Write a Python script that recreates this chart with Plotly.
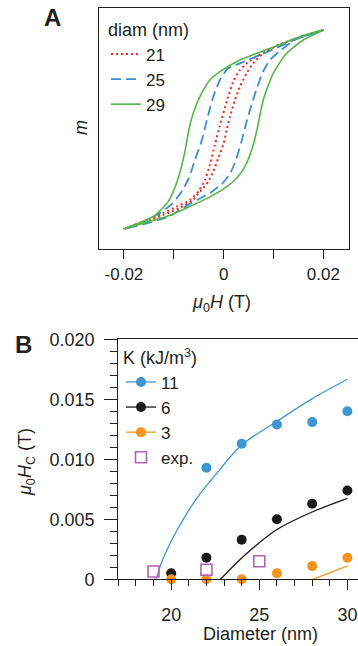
import plotly.graph_objects as go

W, H = 358, 646
INK = "#231f20"
FONT = "Liberation Sans, Arial, Helvetica, sans-serif"

# ---------------- Panel A: hysteresis loops (mu0H in T, normalised m) ----------------
# 21 nm (red dotted)
H21_down = [0.020, 0.01465, 0.0113, 0.00795, 0.00527, 0.00327, 0.00193, 0.00092, -0.00084,
            -0.00175, -0.00275, -0.00375, -0.0051, -0.00676, -0.00943, -0.01212, -0.01579, -0.020]
m21_down = [1.0, 0.917, 0.855, 0.775, 0.69, 0.60, 0.481, 0.331, 0.027,
            -0.153, -0.354, -0.505, -0.622, -0.705, -0.772, -0.839, -0.916, -0.996]
H21_up = [-0.020, -0.01579, -0.01212, -0.00877, -0.00616, -0.00476, -0.00309, -0.00209, -0.00108,
          -0.00008, 0.0006, 0.00126, 0.00227, 0.00327, 0.00462, 0.00594, 0.00795, 0.01096, 0.01465, 0.020]
m21_up = [-0.996, -0.931, -0.856, -0.785, -0.705, -0.625, -0.522, -0.421, -0.287,
          -0.153, -0.003, 0.13, 0.298, 0.431, 0.566, 0.666, 0.766, 0.85, 0.917, 1.0]

# 25 nm (blue dashed)
H25_down = [0.020, 0.01531, 0.00929, 0.00327, 0.00092, -0.00074, -0.00215, -0.00335, -0.00435,
            -0.00575, -0.00696, -0.00835, -0.01036, -0.01277, -0.01578, -0.020]
m25_down = [1.0, 0.925, 0.792, 0.665, 0.616, 0.498, 0.318, 0.098, -0.103,
            -0.304, -0.485, -0.615, -0.745, -0.836, -0.916, -0.996]
H25_up = [-0.020, -0.01579, -0.01077, -0.00676, -0.00275, -0.00034, 0.00126, 0.00247, 0.00367,
          0.00448, 0.00528, 0.00668, 0.00789, 0.00929, 0.0113, 0.01431, 0.020]
m25_up = [-0.996, -0.946, -0.866, -0.745, -0.635, -0.545, -0.444, -0.304, -0.103,
          0.057, 0.198, 0.418, 0.579, 0.699, 0.789, 0.90, 1.0]

# 29 nm (green solid)
H29_down = [0.020, 0.01531, 0.00929, 0.00327, -0.00074, -0.00275, -0.00476, -0.0061, -0.0069,
            -0.00777, -0.00911, -0.01112, -0.01413, -0.02015]
m29_down = [1.0, 0.933, 0.816, 0.699, 0.582, 0.498, 0.331, 0.164, 0.017,
            -0.221, -0.487, -0.722, -0.873, -0.996]
H29_up = [-0.02015, -0.01614, -0.01144, -0.00676, -0.00275, -0.00034, 0.00227, 0.00427, 0.00594,
          0.00668, 0.00795, 0.00995, 0.01264, 0.01597, 0.020]
m29_up = [-0.996, -0.939, -0.873, -0.772, -0.675, -0.605, -0.505, -0.371, -0.153,
          -0.003, 0.298, 0.566, 0.766, 0.90, 1.0]

x_ticks_A = [-0.02, -0.01, 0, 0.01, 0.02]
x_ticktext_A = ["-0.02", "", "0", "", "0.02"]

# ---------------- Panel B: coercivity vs diameter ----------------
D_sim = [20, 22, 24, 26, 28, 30]
Hc_11 = [None, 0.0093, 0.0113, 0.0129, 0.0131, 0.0140]
Hc_6 = [0.0005, 0.0018, 0.0033, 0.0050, 0.0063, 0.0074]
Hc_3 = [0.0, 0.0, 0.0, 0.0005, 0.0011, 0.0018]
D_exp = [19, 22, 25]
Hc_exp = [0.00065, 0.0008, 0.0015]

fit11_D = [19.15, 19.45, 20.3, 21.45, 22.58, 23.99, 25.96, 28.03, 30.0]
fit11_H = [0.0, 0.0014, 0.0040, 0.00675, 0.00883, 0.01119, 0.01313, 0.01508, 0.01667]
fit6_D = [22.8, 24.08, 25.96, 28.03, 30.0]
fit6_H = [0.0, 0.00188, 0.00411, 0.00563, 0.00675]
fit3_D = [28.03, 30.0]
fit3_H = [0.0, 0.00111]

x_ticks_B = [20, 25, 30]
x_ticktext_B = ["20", "25", "30"]
y_ticks_B = [0, 0.005, 0.010, 0.015, 0.020]
y_ticktext_B = ["0", "0.005", "0.010", "0.015", "0.020"]

RED, BLUE, GREEN = "#ee2b24", "#3a8fcd", "#55b649"
C11, C6, C3, CEXP = "#3f95cf", "#1a1a1a", "#f7941d", "#b062b3"


def px(x):
    return x / W


def py(y):
    return 1 - y / H


fig = go.Figure()

# Panel A traces
fig.add_trace(go.Scatter(x=H21_down + H21_up, y=m21_down + m21_up, mode="lines", name="21",
                         line=dict(color=RED, width=2, dash="2px,3px", shape="spline", smoothing=0.6),
                         xaxis="x", yaxis="y", legend="legend"))
fig.add_trace(go.Scatter(x=H25_down + H25_up, y=m25_down + m25_up, mode="lines", name="25",
                         line=dict(color=BLUE, width=1.8, dash="10px,5px", shape="spline", smoothing=0.6),
                         xaxis="x", yaxis="y", legend="legend"))
fig.add_trace(go.Scatter(x=H29_down + H29_up, y=m29_down + m29_up, mode="lines", name="29",
                         line=dict(color=GREEN, width=1.6, shape="spline", smoothing=0.6),
                         xaxis="x", yaxis="y", legend="legend"))

# Panel B curves
fig.add_trace(go.Scatter(x=fit11_D, y=fit11_H, mode="lines", showlegend=False,
                         line=dict(color=C11, width=1.3, shape="spline", smoothing=0.8),
                         xaxis="x2", yaxis="y2"))
fig.add_trace(go.Scatter(x=fit6_D, y=fit6_H, mode="lines", showlegend=False,
                         line=dict(color=C6, width=1.3, shape="spline", smoothing=0.8),
                         xaxis="x2", yaxis="y2"))
fig.add_trace(go.Scatter(x=fit3_D, y=fit3_H, mode="lines", showlegend=False,
                         line=dict(color=C3, width=1.3), xaxis="x2", yaxis="y2"))

# Panel B points
for vals, col in [(Hc_11, C11), (Hc_6, C6), (Hc_3, C3)]:
    fig.add_trace(go.Scatter(x=D_sim, y=vals, mode="markers", showlegend=False, cliponaxis=False,
                             marker=dict(color=col, size=10, line=dict(width=0)),
                             xaxis="x2", yaxis="y2"))
fig.add_trace(go.Scatter(x=D_exp, y=Hc_exp, mode="markers", name="exp.", cliponaxis=False,
                         marker=dict(symbol="square-open", color=CEXP, size=11, line=dict(width=1.6)),
                         xaxis="x2", yaxis="y2", showlegend=False))

# legend-only entries for panel B
for name, col in [("11", C11), ("6", C6), ("3", C3)]:
    fig.add_trace(go.Scatter(x=[None], y=[None], mode="lines+markers", name=name,
                             line=dict(color=col, width=1.3), marker=dict(color=col, size=10),
                             xaxis="x2", yaxis="y2", legend="legend2"))
fig.add_trace(go.Scatter(x=[None], y=[None], mode="markers", name="exp.",
                         marker=dict(symbol="square-open", color=CEXP, size=11, line=dict(width=1.6)),
                         xaxis="x2", yaxis="y2", legend="legend2"))

axis_common = dict(showline=True, linecolor=INK, linewidth=1.3, showgrid=False, zeroline=False,
                   tickcolor=INK, tickwidth=1.2, tickfont=dict(family=FONT, size=18, color=INK))

fig.update_layout(
    width=W, height=H, margin=dict(l=0, r=0, t=0, b=0, autoexpand=False),
    paper_bgcolor="white", plot_bgcolor="white",
    font=dict(family=FONT, size=18, color=INK),
    xaxis=dict(axis_common, domain=[px(99), px(349)], range=[-0.025, 0.02515], anchor="y",
               tickmode="array", tickvals=x_ticks_A, ticktext=x_ticktext_A, ticks="outside",
               ticklen=9, mirror=True, tickfont=dict(family=FONT, size=17, color=INK)),
    yaxis=dict(axis_common, domain=[py(249), py(8)], range=[-1.198, 1.221], anchor="x",
               showticklabels=False, ticks="", mirror=True),
    xaxis2=dict(axis_common, domain=[px(118.3), 1.0], range=[17, 30.6], anchor="y2",
                tickmode="array", tickvals=x_ticks_B, ticktext=x_ticktext_B, ticks="outside",
                ticklen=10, mirror=True, ticklabelstandoff=9, ticklabeloverflow="allow",
                minor=dict(tickmode="linear", tick0=17, dtick=1, ticks="outside", ticklen=6,
                           tickcolor=INK, tickwidth=1.2)),
    yaxis2=dict(axis_common, domain=[py(579.3), py(339.3)], range=[0, 0.020], anchor="x2",
                tickmode="array", tickvals=y_ticks_B, ticktext=y_ticktext_B, ticks="outside",
                ticklen=13, ticklabelstandoff=6,
                minor=dict(tickmode="linear", tick0=0, dtick=0.001, ticks="outside", ticklen=7,
                           tickcolor=INK, tickwidth=1.2)),
    legend=dict(x=px(106), y=py(13), xanchor="left", yanchor="top", bgcolor="rgba(0,0,0,0)",
                title=dict(text="diam (nm)", font=dict(family=FONT, size=18, color=INK)),
                font=dict(family=FONT, size=17, color=INK), itemwidth=30, tracegroupgap=0,
                tracegroupgap_=None) if False else
           dict(x=px(106), y=py(13), xanchor="left", yanchor="top", bgcolor="rgba(0,0,0,0)",
                title=dict(text="diam (nm)", font=dict(family=FONT, size=18, color=INK)),
                font=dict(family=FONT, size=17, color=INK), itemwidth=30, tracegroupgap=0),
    legend2=dict(x=px(121), y=py(341), xanchor="left", yanchor="top", bgcolor="rgba(0,0,0,0)",
                 title=dict(text="K (kJ/m<sup>3</sup>)", font=dict(family=FONT, size=18, color=INK)),
                 font=dict(family=FONT, size=17, color=INK), itemwidth=30, tracegroupgap=0),
    showlegend=True,
)

ann = [
    dict(text="<b>A</b>", x=px(52), y=py(18), font=dict(size=24)),
    dict(text="<b>B</b>", x=px(23), y=py(345), font=dict(size=24)),
    dict(text="<i>m</i>", x=px(81), y=py(128), textangle=-90, font=dict(size=18)),
    dict(text="<i>μ</i><sub>0</sub><i>H</i> (T)", x=px(222), y=py(303), font=dict(size=18)),
    dict(text="<i>μ</i><sub>0</sub><i>H</i><sub>C</sub> (T)", x=px(26), y=py(462), textangle=-90,
         font=dict(size=18)),
    dict(text="Diameter (nm)", x=px(260), y=py(634), font=dict(size=18)),
]
for a in ann:
    fig.add_annotation(xref="paper", yref="paper", showarrow=False, xanchor="center", yanchor="middle",
                       font_family=FONT, font_color=INK, **{k: v for k, v in a.items()})

fig.write_html("out.html")
